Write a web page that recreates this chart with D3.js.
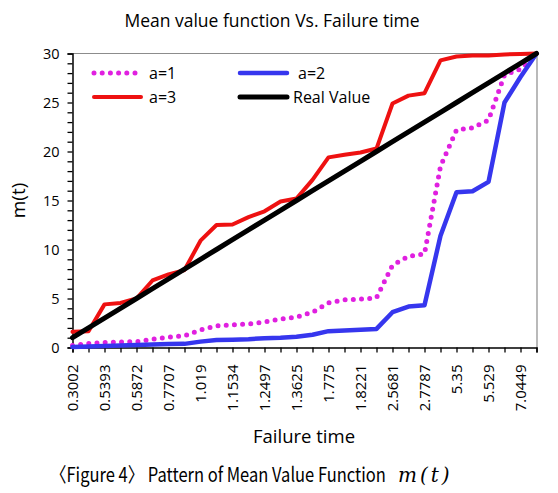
<!DOCTYPE html>
<html>
<head>
<meta charset="utf-8">
<script src="https://cdn.jsdelivr.net/npm/d3@7"></script>
<style>
  html, body { margin: 0; padding: 0; background: #fff; }
  svg { display: block; }
</style>
</head>
<body>
<svg id="chart" width="558" height="493"></svg>
<script>
// ---------- data ----------
const tickLabels = ["0.3002","0.5393","0.5872","0.7707","1.019","1.1534","1.2497","1.3625","1.775","1.8221","2.5681","2.7787","5.35","5.529","7.0449"];
const seriesA1 = [0.2,0.4,0.5,0.55,0.6,0.85,1.05,1.2,1.8,2.2,2.3,2.4,2.6,2.9,3.1,3.6,4.55,4.87,4.93,5.07,8.4,9.3,9.56,18.5,22.2,22.4,23.2,27.8,28.4,30];
const seriesA2 = [0.05,0.1,0.15,0.2,0.25,0.3,0.35,0.37,0.6,0.76,0.8,0.85,0.95,1.0,1.1,1.3,1.67,1.73,1.8,1.9,3.6,4.18,4.3,11.4,15.85,15.95,16.9,25.0,27.6,30];
const seriesA3 = [1.6,1.65,4.4,4.55,5.0,6.84,7.45,7.9,10.9,12.5,12.55,13.3,13.9,14.9,15.2,17.1,19.4,19.66,19.9,20.3,24.9,25.7,25.95,29.3,29.7,29.8,29.8,29.9,29.95,30];
const seriesReal = [1,2,3,4,5,6,7,8,9,10,11,12,13,14,15,16,17,18,19,20,21,22,23,24,25,26,27,28,29,30];
const yTicks = [0,5,10,15,20,25,30];

const series = [
  {name:"a=1", values:seriesA1, color:"#e020e0", dotted:true, width:5},
  {name:"a=2", values:seriesA2, color:"#3636ee", dotted:false, width:4.5},
  {name:"a=3", values:seriesA3, color:"#ee1111", dotted:false, width:4},
  {name:"Real Value", values:seriesReal, color:"#000000", dotted:false, width:5}
];

// ---------- layout ----------
const svg = d3.select("#chart");
const pL = 72.5, pR = 536.5, pT = 53.5, pB = 347.5;
const n = seriesReal.length;
const x = d3.scaleLinear().domain([0, n - 1]).range([pL, pR]);
const y = d3.scaleLinear().domain([0, 30]).range([pB, pT]);
const font = "'Open Sans', 'Liberation Sans', sans-serif";

// title
svg.append("text").attr("x", 272).attr("y", 27).attr("text-anchor", "middle")
  .attr("font-family", font).attr("font-size", 17.5).attr("fill", "#000")
  .text("Mean value function Vs. Failure time");

// plot border (top & right, gray)
svg.append("path")
  .attr("d", `M${pL},${pT}H${pR + 0.5}V${pB}`)
  .attr("fill", "none").attr("stroke", "#8c8c8c").attr("stroke-width", 1.2);

// y axis with minor ticks every 1
const yAxis = d3.axisLeft(y).tickValues(d3.range(0, 31, 1)).tickSize(5).tickPadding(8)
  .tickFormat(d => yTicks.includes(d) ? d : "");
const gy = svg.append("g").attr("transform", `translate(${pL},0)`).call(yAxis);
gy.select(".domain").attr("stroke", "#000").attr("stroke-width", 1.5);
gy.selectAll(".tick line").attr("stroke", "#000").attr("stroke-width", 1.3);
gy.selectAll("text").attr("font-family", font).attr("font-size", 14.5).attr("fill", "#000");

// x axis
const xAxis = d3.axisBottom(x).tickValues(d3.range(0, n, 1)).tickSize(5)
  .tickFormat(i => (i % 2 === 0) ? tickLabels[i / 2] : "");
const gx = svg.append("g").attr("transform", `translate(0,${pB})`).call(xAxis);
gx.select(".domain").attr("stroke", "#000").attr("stroke-width", 1.5);
gx.selectAll(".tick line").attr("stroke", "#000").attr("stroke-width", 1.3);
gx.selectAll("text")
  .attr("font-family", font).attr("font-size", 15).attr("fill", "#000")
  .attr("transform", "rotate(-90)")
  .attr("x", -17).attr("y", 0).attr("dy", "0.35em")
  .attr("text-anchor", "end");

// series lines
const line = d3.line().x((d, i) => x(i)).y(d => y(d));
series.forEach(s => {
  const p = svg.append("path").datum(s.values)
    .attr("d", line).attr("fill", "none")
    .attr("stroke", s.color).attr("stroke-width", s.width)
    .attr("stroke-linejoin", "round").attr("stroke-linecap", "round");
  if (s.dotted) p.attr("stroke-dasharray", "0,8.2");
});

// legend
const legendPos = [
  {x: 94, y: 73}, {x: 240, y: 73}, {x: 94, y: 97}, {x: 240, y: 97}
];
const textX = [149, 298, 149, 293];
series.forEach((s, k) => {
  const p = legendPos[k];
  const l = svg.append("line")
    .attr("x1", p.x).attr("x2", p.x + 47).attr("y1", p.y).attr("y2", p.y)
    .attr("stroke", s.color).attr("stroke-width", s.width)
    .attr("stroke-linecap", "round");
  if (s.dotted) l.attr("stroke-dasharray", "0,8.2");
  svg.append("text").attr("x", textX[k]).attr("y", p.y).attr("dy", "0.35em")
    .attr("font-family", font).attr("font-size", 16).attr("fill", "#000")
    .text(s.name);
});

// axis titles
svg.append("text").attr("transform", `translate(25,${(pT + pB) / 2}) rotate(-90)`)
  .attr("text-anchor", "middle").attr("font-family", font).attr("font-size", 19).attr("fill", "#000")
  .text("m(t)");
svg.append("text").attr("x", 304).attr("y", 443).attr("text-anchor", "middle")
  .attr("font-family", font).attr("font-size", 18.5).attr("fill", "#000")
  .text("Failure time");

// caption (condensed via horizontal scale measured at run time)
const capFont = "'Noto Sans CJK KR', sans-serif";
const capText = svg.append("text").attr("x", 0).attr("y", 0)
  .attr("font-family", capFont).attr("font-size", 20).attr("fill", "#000")
  .text("〈Figure 4〉 Pattern of Mean Value Function");
const capW = capText.node().getComputedTextLength() || 336;
capText.attr("transform", `translate(50,482) scale(${336 / capW},1)`);
svg.append("text").attr("x", 398).attr("y", 482)
  .attr("font-family", "'DejaVu Serif', 'Liberation Serif', serif")
  .attr("font-style", "italic").attr("font-size", 20).attr("letter-spacing", 3)
  .attr("fill", "#000").text("m(t)");
</script>
</body>
</html>
